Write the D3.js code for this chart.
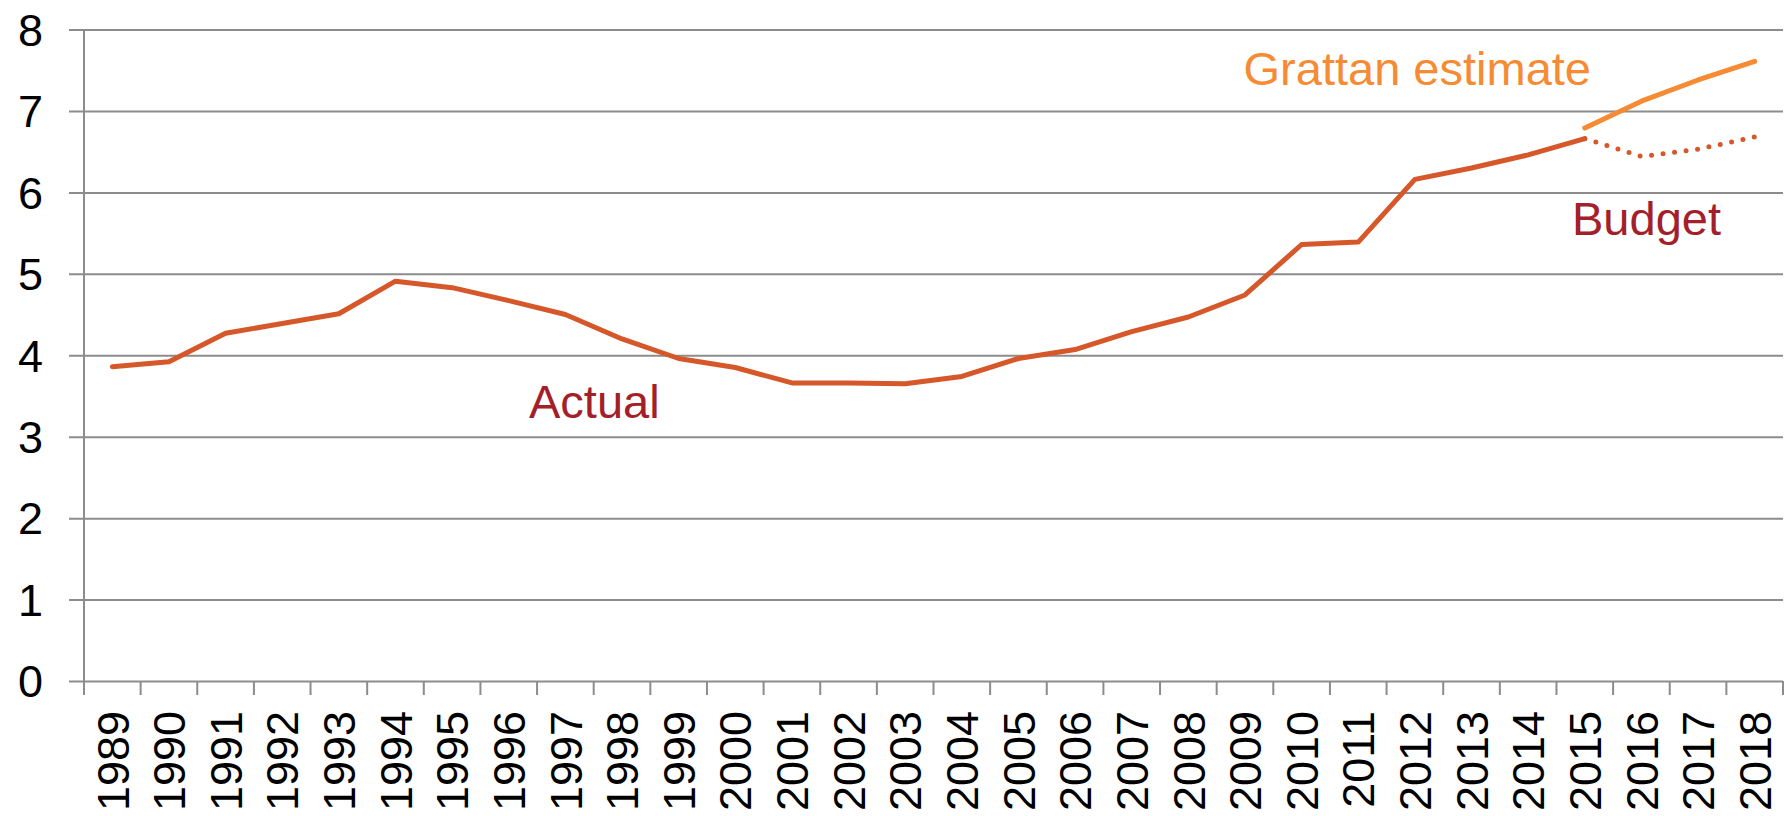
<!DOCTYPE html>
<html>
<head>
<meta charset="utf-8">
<script src="https://cdn.jsdelivr.net/npm/d3@7"></script>
<style>
  html, body { margin: 0; padding: 0; background: #fff; }
  svg { display: block; font-family: "Liberation Sans", Arial, sans-serif; }
</style>
</head>
<body>
<div id="chart"></div>
<script>
const years = d3.range(1989, 2019).map(String);
const actualYears = d3.range(1989, 2016).map(String);
const actualValues = [3.86, 3.92, 4.27, 4.39, 4.51, 4.91, 4.83, 4.67, 4.50, 4.20,
  3.96, 3.85, 3.66, 3.66, 3.65, 3.74, 3.96, 4.07, 4.29, 4.47,
  4.74, 5.36, 5.39, 6.16, 6.30, 6.46, 6.66];
const projYears = ["2015", "2016", "2017", "2018"];
const grattanValues = [6.79, 7.12, 7.38, 7.61];
const budgetValues = [6.66, 6.44, 6.53, 6.68];
const yTicks = [0, 1, 2, 3, 4, 5, 6, 7, 8];

const width = 1784, height = 816;
const margin = { top: 29.5, right: 1, bottom: 135, left: 84 };

const svg = d3.select("#chart").append("svg")
  .attr("width", width)
  .attr("height", height);

const x = d3.scaleBand()
  .domain(years)
  .range([margin.left, width - margin.right]);

const y = d3.scaleLinear()
  .domain([0, 8])
  .range([height - margin.bottom, margin.top]);

const gridColor = "#8c8c8c";

// gridlines + y labels
const yAxis = svg.append("g")
  .attr("transform", `translate(${margin.left},0)`)
  .call(d3.axisLeft(y).tickValues(yTicks).tickSize(-(width - margin.left - margin.right)).tickPadding(0).tickFormat(d3.format("d")));
yAxis.select(".domain").remove();
yAxis.selectAll(".tick line")
  .attr("x1", -15)
  .attr("stroke", gridColor)
  .attr("stroke-width", 2);
yAxis.selectAll(".tick text")
  .attr("x", -41)
  .attr("dy", "0.35em")
  .attr("fill", "#000")
  .style("font-size", "45px");

// vertical axis line
svg.append("line")
  .attr("x1", margin.left).attr("x2", margin.left)
  .attr("y1", y(8)).attr("y2", y(0) + 14)
  .attr("stroke", gridColor)
  .attr("stroke-width", 2);

// x axis ticks at category boundaries
const boundaries = years.map(d => x(d)).concat([x(years[years.length - 1]) + x.bandwidth()]);
svg.append("g").selectAll("line")
  .data(boundaries)
  .join("line")
  .attr("x1", d => d).attr("x2", d => d)
  .attr("y1", y(0)).attr("y2", y(0) + 14)
  .attr("stroke", gridColor)
  .attr("stroke-width", 2);

// x labels
svg.append("g").selectAll("text")
  .data(years)
  .join("text")
  .attr("transform", d => `translate(${x(d) + x.bandwidth() / 2},${y(0) + 30}) rotate(-90)`)
  .attr("text-anchor", "end")
  .attr("dy", "0.36em")
  .style("font-size", "45px")
  .attr("fill", "#000")
  .text(d => d);

const cx = d => x(d) + x.bandwidth() / 2;
const line = d3.line().x(d => cx(d[0])).y(d => y(d[1]));

// budget (dotted)
svg.append("path")
  .datum(d3.zip(projYears, budgetValues))
  .attr("d", line)
  .attr("fill", "none")
  .attr("stroke", "#d6582a")
  .attr("stroke-width", 5)
  .attr("stroke-linecap", "round")
  .attr("stroke-dasharray", "0 11.6");

// actual
svg.append("path")
  .datum(d3.zip(actualYears, actualValues))
  .attr("d", line)
  .attr("fill", "none")
  .attr("stroke", "#d6582a")
  .attr("stroke-width", 5)
  .attr("stroke-linecap", "round")
  .attr("stroke-linejoin", "round");

// grattan estimate
svg.append("path")
  .datum(d3.zip(projYears, grattanValues))
  .attr("d", line)
  .attr("fill", "none")
  .attr("stroke", "#f68b33")
  .attr("stroke-width", 5)
  .attr("stroke-linecap", "round")
  .attr("stroke-linejoin", "round");

// annotations
svg.append("text")
  .attr("x", 1591).attr("y", 85)
  .attr("text-anchor", "end")
  .attr("fill", "#f68b33")
  .style("font-size", "47px")
  .text("Grattan estimate");

svg.append("text")
  .attr("x", 1572).attr("y", 235)
  .attr("fill", "#a3202a")
  .style("font-size", "47px")
  .text("Budget");

svg.append("text")
  .attr("x", 529).attr("y", 418)
  .attr("fill", "#a3202a")
  .style("font-size", "47px")
  .text("Actual");
</script>
</body>
</html>
